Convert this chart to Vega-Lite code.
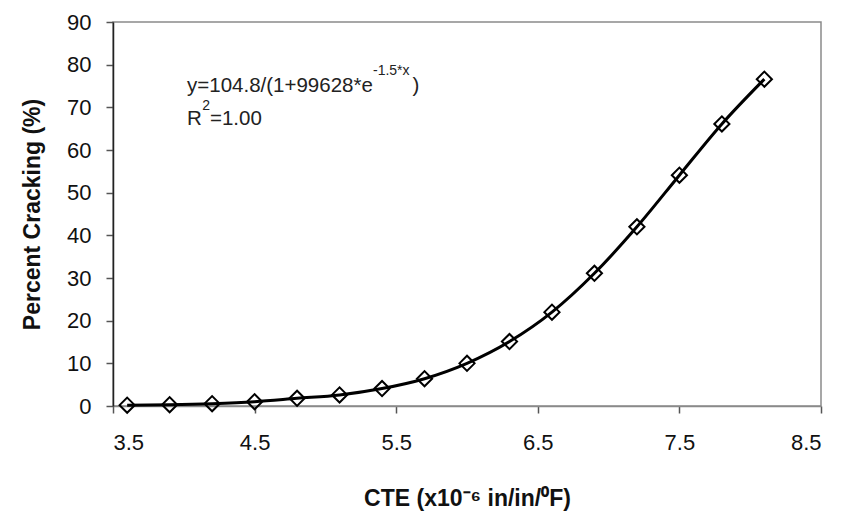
{
  "$schema": "https://vega.github.io/schema/vega-lite/v6.json",
  "width": 708,
  "height": 384,
  "autosize": "none",
  "padding": {"left": 113, "top": 22, "right": 28, "bottom": 108},
  "background": "white",
  "config": {
    "view": {"stroke": "#8a8a8a", "strokeWidth": 1.5},
    "font": "Liberation Sans",
    "axis": {
      "labelFont": "Liberation Sans",
      "titleFont": "Liberation Sans",
      "labelColor": "#111",
      "titleColor": "#111",
      "grid": false,
      "tickColor": "#555",
      "tickSize": 7,
      "tickWidth": 1.5
    }
  },
  "datasets": {
    "pts": [
      {"cte": 3.6, "pct": 0.2},
      {"cte": 3.9, "pct": 0.3},
      {"cte": 4.2, "pct": 0.55},
      {"cte": 4.5, "pct": 1.0},
      {"cte": 4.8, "pct": 1.8},
      {"cte": 5.1, "pct": 2.6},
      {"cte": 5.4, "pct": 4.1},
      {"cte": 5.7, "pct": 6.4},
      {"cte": 6.0, "pct": 10.0},
      {"cte": 6.3, "pct": 15.1},
      {"cte": 6.6, "pct": 22.0},
      {"cte": 6.9, "pct": 31.1},
      {"cte": 7.2, "pct": 42.0},
      {"cte": 7.5, "pct": 54.1},
      {"cte": 7.8, "pct": 66.1},
      {"cte": 8.1, "pct": 76.6}
    ],
    "ann": [
      {"x": 4.023, "y": 73.6, "t": "y=104.8/(1+99628*e", "sup": false},
      {"x": 5.336, "y": 77.6, "t": "-1.5*x", "sup": true},
      {"x": 5.615, "y": 73.6, "t": ")", "sup": false},
      {"x": 4.023, "y": 65.9, "t": "R", "sup": false},
      {"x": 4.13, "y": 69.4, "t": "2", "sup": true},
      {"x": 4.185, "y": 65.9, "t": "=1.00", "sup": false}
    ]
  },
  "layer": [
    {
      "data": {"name": "pts"},
      "mark": {"type": "line", "color": "black", "strokeWidth": 3, "interpolate": "monotone"},
      "encoding": {
        "x": {
          "field": "cte", "type": "quantitative",
          "scale": {"domain": [3.5, 8.5], "nice": false, "zero": false},
          "axis": {
            "values": [3.5, 4.5, 5.5, 6.5, 7.5, 8.5],
            "format": ".1f",
            "title": "CTE (x10⁻⁶ in/in/⁰F)",
            "titleFontSize": 23,
            "titleFontWeight": "bold",
            "titlePadding": 34,
            "labelFontSize": 22,
            "labelPadding": 19,
            "domainColor": "#8a8a8a",
            "domainWidth": 1.5
          }
        },
        "y": {
          "field": "pct", "type": "quantitative",
          "scale": {"domain": [0, 90], "nice": false},
          "axis": {
            "values": [0, 10, 20, 30, 40, 50, 60, 70, 80, 90],
            "title": "Percent Cracking (%)",
            "titleFontSize": 23,
            "titleFontWeight": "bold",
            "titlePadding": 22,
            "labelFontSize": 22,
            "labelPadding": 15,
            "domainColor": "#222",
            "domainWidth": 1.5
          }
        }
      }
    },
    {
      "data": {"name": "pts"},
      "mark": {"type": "point", "shape": "diamond", "filled": false, "color": "black", "strokeWidth": 2, "size": 230, "opacity": 1},
      "encoding": {
        "x": {"field": "cte", "type": "quantitative"},
        "y": {"field": "pct", "type": "quantitative"}
      }
    },
    {
      "data": {"name": "ann"},
      "transform": [{"filter": "!datum.sup"}],
      "mark": {"type": "text", "align": "left", "baseline": "alphabetic", "fontSize": 20.5, "color": "#222"},
      "encoding": {
        "x": {"field": "x", "type": "quantitative"},
        "y": {"field": "y", "type": "quantitative"},
        "text": {"field": "t"}
      }
    },
    {
      "data": {"name": "ann"},
      "transform": [{"filter": "datum.sup"}],
      "mark": {"type": "text", "align": "left", "baseline": "alphabetic", "fontSize": 14, "color": "#222"},
      "encoding": {
        "x": {"field": "x", "type": "quantitative"},
        "y": {"field": "y", "type": "quantitative"},
        "text": {"field": "t"}
      }
    }
  ]
}
